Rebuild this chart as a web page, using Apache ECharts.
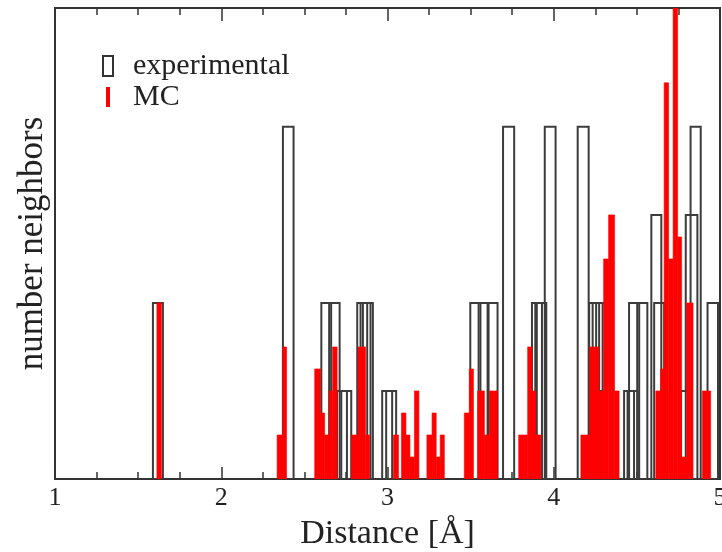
<!DOCTYPE html>
<html>
<head>
<meta charset="utf-8">
<title>number neighbors</title>
<script src="https://cdn.jsdelivr.net/npm/echarts@6/dist/echarts.min.js"></script>
<style>
  html, body { margin: 0; padding: 0; background: #fff; }
  #main { width: 722px; height: 552px; }
</style>
</head>
<body>
<div id="main"></div>
<script>
// experimental histogram: bin start, bin end (Å), count
var expLo = [1.589, 2.371, 2.602, 2.649, 2.696, 2.722, 2.818, 2.838, 2.852, 2.968, 2.992,
             3.498, 3.548, 3.602, 3.695, 3.869, 3.889, 3.898, 3.946, 4.144, 4.213, 4.234,
             4.255, 4.276, 4.423, 4.444, 4.453, 4.502, 4.587, 4.604, 4.764, 4.794, 4.823, 4.925];
var expHi = [1.649, 2.435, 2.661, 2.712, 2.756, 2.782, 2.878, 2.898, 2.912, 3.028, 3.052,
             3.559, 3.608, 3.662, 3.762, 3.929, 3.949, 3.955, 4.011, 4.210, 4.273, 4.294,
             4.315, 4.315, 4.483, 4.505, 4.514, 4.563, 4.647, 4.664, 4.824, 4.864, 4.884, 4.988];
var expCount = [2, 4, 2, 2, 1, 1, 2, 2, 2, 1, 1,
                2, 2, 2, 4, 2, 2, 2, 4, 4, 2, 2,
                2, 1, 1, 1, 2, 2, 3, 2, 1, 3, 4, 2];

// MC histogram
var mcLo = [1.613, 2.336, 2.369, 2.562, 2.598, 2.622, 2.649, 2.670, 2.782, 2.822, 2.868,
            3.036, 3.084, 3.111, 3.135, 3.162, 3.237, 3.268, 3.293, 3.317,
            3.462, 3.492, 3.542, 3.583, 3.613, 3.789, 3.843, 3.869, 3.892,
            4.163, 4.216, 4.273, 4.300, 4.330, 4.366,
            4.614, 4.643, 4.664, 4.691, 4.718, 4.745, 4.769, 4.799, 4.894];
var mcHi = [1.640, 2.369, 2.393, 2.598, 2.622, 2.649, 2.670, 2.697, 2.822, 2.868, 2.892,
            3.066, 3.111, 3.135, 3.162, 3.189, 3.268, 3.293, 3.317, 3.342,
            3.492, 3.517, 3.583, 3.613, 3.662, 3.843, 3.869, 3.892, 3.923,
            4.216, 4.273, 4.300, 4.330, 4.366, 4.393,
            4.643, 4.664, 4.691, 4.718, 4.745, 4.769, 4.799, 4.838, 4.944];
var mcCount = [2.0, 0.5, 1.5, 1.25, 0.75, 0.5, 1.0, 1.5, 0.5, 1.5, 0.5,
               0.5, 0.75, 0.5, 0.25, 1.0, 0.5, 0.75, 0.25, 0.5,
               0.75, 1.25, 1.0, 0.5, 1.0, 0.5, 1.5, 1.0, 0.5,
               0.5, 1.5, 1.0, 2.5, 3.0, 1.0,
               1.0, 1.25, 4.5, 2.5, 5.6, 2.75, 0.25, 2.0, 1.0];

var xTicks = [1, 2, 3, 4, 5];
var yMax = 5.35;

var serif = "'Liberation Serif', 'DejaVu Serif', serif";
var ink = '#333';

function binRect(params, api) {
  var top = api.coord([api.value(0), api.value(2)]);
  var bot = api.coord([api.value(1), 0]);
  return {
    type: 'rect',
    shape: { x: top[0], y: top[1], width: bot[0] - top[0], height: bot[1] - top[1] },
    style: api.style()
  };
}

function bins(lo, hi, n) {
  return lo.map(function (v, i) { return [v, hi[i], n[i]]; });
}

var chart = echarts.init(document.getElementById('main'));
chart.setOption({
  animation: false,
  backgroundColor: '#fff',
  grid: {
    left: 55, right: 2, top: 8, bottom: 73,
    outerBoundsMode: 'none',
    show: true, borderColor: ink, borderWidth: 2, backgroundColor: 'transparent'
  },
  legend: {
    orient: 'vertical',
    left: 97, top: 46,
    itemWidth: 10, itemHeight: 20, itemGap: 1,
    textStyle: { fontFamily: serif, fontSize: 30, color: '#222', lineHeight: 20, padding: [0, 0, 0, 15] },
    data: [
      { name: 'experimental', icon: 'rect',
        itemStyle: { color: 'rgba(0,0,0,0)', borderColor: ink, borderWidth: 2 } },
      { name: 'MC', icon: 'path://M0,0h4v20h-4z',
        itemStyle: { color: '#ff0000', borderWidth: 0 } }
    ]
  },
  xAxis: [{
    type: 'value', min: xTicks[0], max: xTicks[xTicks.length - 1], interval: 1,
    position: 'bottom',
    name: 'Distance [Å]', nameLocation: 'middle', nameGap: 38,
    nameTextStyle: { fontFamily: serif, fontSize: 34, color: '#222' },
    axisLine: { show: false },
    axisTick: { inside: true, length: 12, lineStyle: { color: ink, width: 1.5 } },
    minorTick: { show: true, splitNumber: 4, length: 7, lineStyle: { color: ink, width: 1.5 } },
    splitLine: { show: false },
    axisLabel: { fontFamily: serif, fontSize: 26, color: '#222', margin: 6 }
  }, {
    type: 'value', min: xTicks[0], max: xTicks[xTicks.length - 1], interval: 1,
    position: 'top',
    axisLine: { show: false },
    axisTick: { inside: true, length: 13, lineStyle: { color: ink, width: 1.5 } },
    minorTick: { show: true, splitNumber: 4, length: 7, lineStyle: { color: ink, width: 1.5 } },
    splitLine: { show: false },
    axisLabel: { show: false }
  }],
  yAxis: {
    type: 'value', min: 0, max: yMax,
    name: 'number neighbors', nameLocation: 'middle', nameGap: 5,
    nameTextStyle: { fontFamily: serif, fontSize: 35, color: '#222' },
    axisLine: { show: false }, axisTick: { show: false },
    axisLabel: { show: false }, splitLine: { show: false }
  },
  series: [{
    name: 'experimental',
    type: 'custom',
    renderItem: binRect,
    clip: true,
    itemStyle: { color: 'rgba(0,0,0,0)', borderColor: '#3c3c3c', borderWidth: 2 },
    encode: { x: [0, 1], y: 2 },
    data: bins(expLo, expHi, expCount)
  }, {
    name: 'MC',
    type: 'custom',
    renderItem: binRect,
    clip: true,
    itemStyle: { color: '#ff0000', borderColor: '#ff0000', borderWidth: 0.6 },
    encode: { x: [0, 1], y: 2 },
    data: bins(mcLo, mcHi, mcCount)
  }]
});
</script>
</body>
</html>
